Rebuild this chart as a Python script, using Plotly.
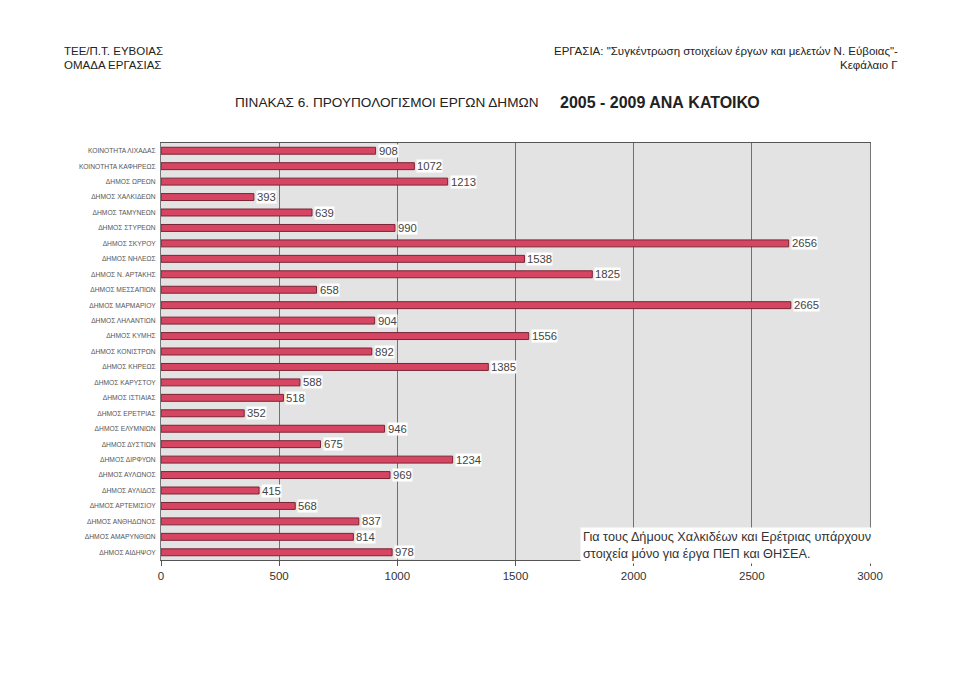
import plotly.graph_objects as go

categories = [
    "ΚΟΙΝΟΤΗΤΑ ΛΙΧΑΔΑΣ", "ΚΟΙΝΟΤΗΤΑ ΚΑΦΗΡΕΩΣ", "ΔΗΜΟΣ ΩΡΕΩΝ", "ΔΗΜΟΣ ΧΑΛΚΙΔΕΩΝ",
    "ΔΗΜΟΣ ΤΑΜΥΝΕΩΝ", "ΔΗΜΟΣ ΣΤΥΡΕΩΝ", "ΔΗΜΟΣ ΣΚΥΡΟΥ", "ΔΗΜΟΣ ΝΗΛΕΩΣ",
    "ΔΗΜΟΣ Ν. ΑΡΤΑΚΗΣ", "ΔΗΜΟΣ ΜΕΣΣΑΠΙΩΝ", "ΔΗΜΟΣ ΜΑΡΜΑΡΙΟΥ", "ΔΗΜΟΣ ΛΗΛΑΝΤΙΩΝ",
    "ΔΗΜΟΣ ΚΥΜΗΣ", "ΔΗΜΟΣ ΚΟΝΙΣΤΡΩΝ", "ΔΗΜΟΣ ΚΗΡΕΩΣ", "ΔΗΜΟΣ ΚΑΡΥΣΤΟΥ",
    "ΔΗΜΟΣ ΙΣΤΙΑΙΑΣ", "ΔΗΜΟΣ ΕΡΕΤΡΙΑΣ", "ΔΗΜΟΣ ΕΛΥΜΝΙΩΝ", "ΔΗΜΟΣ ΔΥΣΤΙΩΝ",
    "ΔΗΜΟΣ ΔΙΡΦΥΩΝ", "ΔΗΜΟΣ ΑΥΛΩΝΟΣ", "ΔΗΜΟΣ ΑΥΛΙΔΟΣ", "ΔΗΜΟΣ ΑΡΤΕΜΙΣΙΟΥ",
    "ΔΗΜΟΣ ΑΝΘΗΔΩΝΟΣ", "ΔΗΜΟΣ ΑΜΑΡΥΝΘΙΩΝ", "ΔΗΜΟΣ ΑΙΔΗΨΟΥ",
]
values = [908, 1072, 1213, 393, 639, 990, 2656, 1538, 1825, 658, 2665, 904,
          1556, 892, 1385, 588, 518, 352, 946, 675, 1234, 969, 415, 568,
          837, 814, 978]
x_ticks = [0, 500, 1000, 1500, 2000, 2500, 3000]

title_main = "ΠΙΝΑΚΑΣ 6. ΠΡΟΥΠΟΛΟΓΙΣΜΟΙ ΕΡΓΩΝ ΔΗΜΩΝ"
title_years = "2005 - 2009 ΑΝΑ ΚΑΤΟΙΚΟ"
header_left = ["ΤΕΕ/Π.Τ. ΕΥΒΟΙΑΣ", "ΟΜΑΔΑ ΕΡΓΑΣΙΑΣ"]
header_right = ["ΕΡΓΑΣΙΑ: \"Συγκέντρωση στοιχείων έργων και μελετών Ν. Εύβοιας\"-", "Κεφάλαιο Γ"]
note_text = "Για τους Δήμους Χαλκιδέων και Ερέτριας υπάρχουν<br>στοιχεία μόνο για έργα ΠΕΠ και ΘΗΣΕΑ."

SANS = "Liberation Sans, Arial, sans-serif"

OFF = 8  # page body margin
W, H = 960 - OFF, 678 - OFF
# plot area in page pixels
L, R, T, B = 161, 870, 143, 560


def px(x):
    return (x - L) / (R - L)


def py(y):
    return (B - y) / (B - T)


fig = go.Figure()
fig.add_trace(go.Bar(
    x=values, y=categories, orientation="h",
    marker=dict(color="#d64561", line=dict(color="#7a2435", width=1)),
    width=0.45, hoverinfo="x+y",
))

annotations = []
for c, v in zip(categories, values):
    annotations.append(dict(
        x=v, y=c, xref="x", yref="y", text=str(v), showarrow=False,
        xanchor="left", xshift=2, bgcolor="white", borderpad=0,
        font=dict(family=SANS, size=11.3, color="#444"),
    ))

annotations += [
    dict(x=px(233), y=py(103), xref="paper", yref="paper", text=title_main,
         showarrow=False, xanchor="left", yanchor="middle",
         font=dict(family=SANS, size=13.6, color="#222")),
    dict(x=px(558), y=py(103), xref="paper", yref="paper", text="<b>" + title_years + "</b>",
         showarrow=False, xanchor="left", yanchor="middle",
         font=dict(family=SANS, size=16, color="#222")),
    dict(x=px(62), y=py(51), xref="paper", yref="paper", text=header_left[0],
         showarrow=False, xanchor="left", yanchor="middle",
         font=dict(family=SANS, size=11.5, color="#222")),
    dict(x=px(62), y=py(65), xref="paper", yref="paper", text=header_left[1],
         showarrow=False, xanchor="left", yanchor="middle",
         font=dict(family=SANS, size=11.5, color="#222")),
    dict(x=px(900), y=py(51), xref="paper", yref="paper", text=header_right[0],
         showarrow=False, xanchor="right", yanchor="middle",
         font=dict(family=SANS, size=11.5, color="#222")),
    dict(x=px(900), y=py(65), xref="paper", yref="paper", text=header_right[1],
         showarrow=False, xanchor="right", yanchor="middle",
         font=dict(family=SANS, size=11.5, color="#222")),
    dict(x=px(580), y=py(545), xref="paper", yref="paper", text=note_text,
         showarrow=False, xanchor="left", yanchor="middle", align="left",
         bgcolor="white", borderpad=2,
         font=dict(family=SANS, size=12.7, color="#333")),
]

fig.update_layout(
    width=W, height=H,
    margin=dict(l=L - OFF, r=W - (R - OFF), t=T - OFF, b=H - (B - OFF)),
    paper_bgcolor="white",
    plot_bgcolor="#e3e3e3",
    showlegend=False,
    annotations=annotations,
    xaxis=dict(
        range=[0, 3000], tickvals=x_ticks, ticktext=[str(t) for t in x_ticks],
        showgrid=True, gridcolor="#707070", gridwidth=1,
        showline=True, linecolor="#555", linewidth=1, mirror=True,
        ticks="outside", ticklen=5, tickcolor="#555",
        tickfont=dict(family=SANS, size=11.5, color="#333"),
        zeroline=False, fixedrange=True,
    ),
    yaxis=dict(
        autorange="reversed", type="category",
        showgrid=False, showline=True, linecolor="#777", linewidth=1, mirror=True,
        ticks="", ticklabelstandoff=3,
        tickfont=dict(family=SANS, size=6.7, color="#555"),
        fixedrange=True,
    ),
    bargap=0.5,
)

fig.write_html("out.html")
